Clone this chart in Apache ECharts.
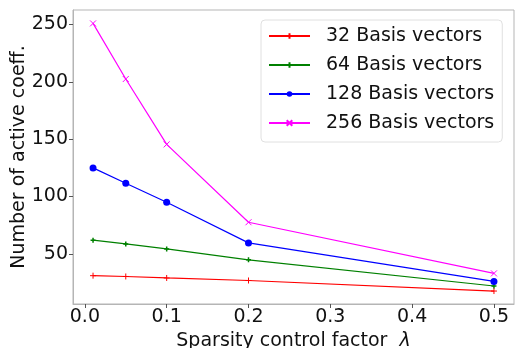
<!DOCTYPE html>
<html>
<head>
<meta charset="utf-8">
<script src="https://cdn.jsdelivr.net/npm/echarts@6/dist/echarts.min.js"></script>
<style>
  html, body { margin: 0; padding: 0; background: #fff; }
  #chart { width: 515px; height: 348px; }
</style>
</head>
<body>
<div id="chart"></div>
<script>
// sparsity factor lambda
const lambdas = [0.01, 0.05, 0.1, 0.2, 0.5];
const basis32 = [31, 30.3, 29, 26.8, 17.6];
const basis64 = [62, 58.7, 54.3, 44.8, 22];
const basis128 = [125, 111.6, 95, 59.6, 26];
const basis256 = [251, 202.5, 145.5, 77.6, 33];
const xTicks = [0, 0.1, 0.2, 0.3, 0.4, 0.5];
const yTicks = [50, 100, 150, 200, 250];

const plusPath = 'path://M0,5L10,5M5,0L5,10';
const crossPath = 'path://M0,0L10,10M10,0L0,10';

const chart = echarts.init(document.getElementById('chart'));

function makeSeries(name, values, color, symbol, size, bw) {
    return {
        name: name,
        type: 'line',
        data: lambdas.map((x, i) => [x, values[i]]),
        symbol: symbol,
        symbolSize: size,
        showAllSymbol: true,
        lineStyle: { color: color, width: 1.2 },
        itemStyle: { color: color, borderColor: color, borderWidth: bw },
        emphasis: { disabled: true },
        animation: false
    };
}

const font = 'DejaVu Sans';

chart.setOption({
    animation: false,
    grid: {
        left: 73, top: 10, right: 1, bottom: 44,
        outerBoundsMode: 'none',
        show: true, borderColor: '#b5b5b5', borderWidth: 1
    },
    legend: {
        orient: 'vertical',
        left: 261, top: 20,
        width: 230,
        padding: [5, 8, 8, 7],
        itemWidth: 41, itemHeight: 7, itemGap: 7,
        borderColor: '#e0e0e0', borderWidth: 1, borderRadius: 4,
        backgroundColor: '#fff',
        textStyle: { fontFamily: font, fontSize: 19, color: '#111', lineHeight: 22, padding: [0, 0, 0, 11] },
        data: ['32 Basis vectors', '64 Basis vectors', '128 Basis vectors', '256 Basis vectors']
    },
    xAxis: {
        type: 'value',
        min: -0.0145, max: 0.5245,
        name: 'Sparsity control factor  {i|λ}',
        nameLocation: 'middle',
        nameGap: 22,
        nameTextStyle: {
            fontFamily: font, fontSize: 19, color: '#111',
            rich: { i: { fontFamily: font, fontSize: 19, fontStyle: 'italic', color: '#111' } }
        },
        splitLine: { show: false },
        axisLine: { onZero: false, lineStyle: { color: '#b5b5b5' } },
        axisTick: { customValues: xTicks, length: 4, lineStyle: { color: '#555' } },
        axisLabel: {
            customValues: xTicks,
            fontFamily: font, fontSize: 19, color: '#111', margin: 4,
            formatter: v => v.toFixed(1)
        }
    },
    yAxis: {
        type: 'value',
        min: 6.3, max: 262.7,
        name: 'Number of active coeff.',
        nameLocation: 'middle',
        nameGap: 44,
        nameMoveOverlap: false,
        nameTextStyle: { fontFamily: font, fontSize: 19, color: '#111' },
        splitLine: { show: false },
        axisLine: { show: true, onZero: false, lineStyle: { color: '#b5b5b5' } },
        axisTick: { show: true, customValues: yTicks, length: 4, lineStyle: { color: '#555' } },
        axisLabel: {
            customValues: yTicks,
            fontFamily: font, fontSize: 19, color: '#111', margin: 5
        }
    },
    series: [
        makeSeries('32 Basis vectors', basis32, '#ff0000', plusPath, 6, 1),
        makeSeries('64 Basis vectors', basis64, '#008000', plusPath, 5, 1.5),
        makeSeries('128 Basis vectors', basis128, '#0000ff', 'circle', 7, 0),
        makeSeries('256 Basis vectors', basis256, '#ff00ff', crossPath, 6, 1)
    ]
});
</script>
</body>
</html>
